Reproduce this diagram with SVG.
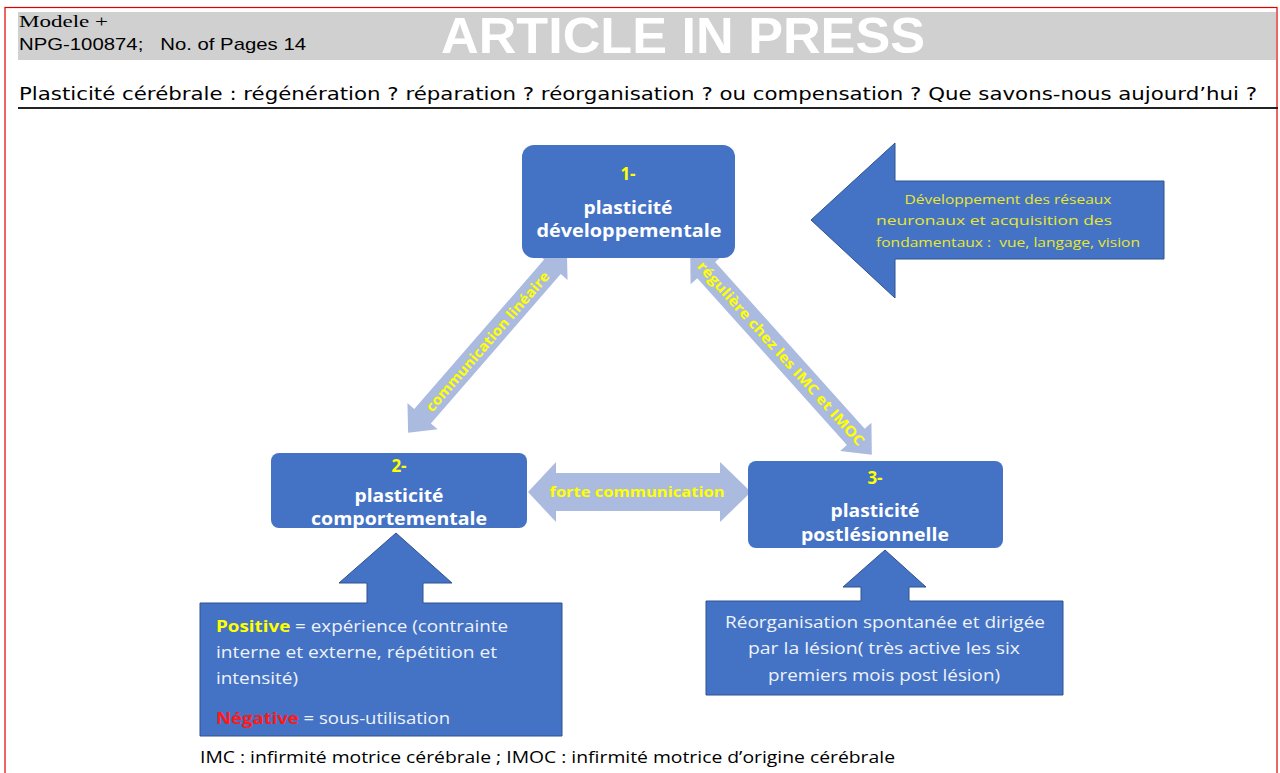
<svg xmlns="http://www.w3.org/2000/svg" width="1280" height="773" viewBox="0 0 1280 773">
<style>
.node{fill:#4472C4;}
.box{fill:#4472C4;stroke:#2F528F;stroke-width:1;}
.conn{fill:#ABBADF;}
.t{font-family:"Liberation Sans","Open Sans",sans-serif;}
.num{font-family:"Open Sans","Liberation Sans",sans-serif;font-weight:bold;font-size:17px;fill:#FFFF00;text-anchor:middle;}
.lbl{font-family:"Open Sans","Liberation Sans",sans-serif;font-weight:bold;font-size:18px;fill:#FFFFFF;text-anchor:middle;}
.clbl{font-family:"Open Sans","Liberation Sans",sans-serif;font-weight:bold;font-size:14px;fill:#FFFF00;text-anchor:middle;}
.body{font-family:"Open Sans","Liberation Sans",sans-serif;font-size:16px;fill:#EEF2FA;}
.dev{font-family:"Open Sans","Liberation Sans",sans-serif;font-size:13px;fill:#E8E830;text-anchor:middle;}
</style>
<rect x="0" y="0" width="1280" height="773" fill="#FFFFFF"/>
<rect x="5" y="7.5" width="1272" height="780" fill="none" stroke="#E00000" stroke-width="1.2"/>
<rect x="18" y="12" width="1258" height="48" fill="#D0D0D0"/>
<text x="19" y="27" font-family="Liberation Serif,serif" font-size="17" fill="#000" textLength="89" lengthAdjust="spacingAndGlyphs">Modele +</text>
<text x="19" y="50" class="t" font-size="17" fill="#000" xml:space="preserve" textLength="287" lengthAdjust="spacingAndGlyphs">NPG-100874;   No. of Pages 14</text>
<text x="683" y="53" font-family="Liberation Sans,sans-serif" font-weight="bold" font-size="50" fill="#FFFFFF" text-anchor="middle" textLength="484" lengthAdjust="spacingAndGlyphs">ARTICLE IN PRESS</text>
<text x="19" y="100" font-family="DejaVu Sans,sans-serif" font-size="18" fill="#000" textLength="1238" lengthAdjust="spacingAndGlyphs">Plasticité cérébrale : régénération ? réparation ? réorganisation ? ou compensation ? Que savons-nous aujourd’hui ?</text>
<rect x="18" y="107" width="1260" height="2" fill="#222"/>

<g id="connectors">
<path class="conn" transform="translate(487.5,341.5) rotate(-49)" d="M-121,0 L-99,-20 L-99,-11 L99,-11 L99,-20 L121,0 L99,20 L99,11 L-99,11 L-99,20 Z"/>
<text class="clbl" transform="translate(487.5,341.5) rotate(-49)" y="5" textLength="180" lengthAdjust="spacingAndGlyphs">communication linéaire</text>
<path class="conn" transform="translate(781,353.5) rotate(48.1)" d="M-136,0 L-112,-21 L-112,-12 L112,-12 L112,-21 L136,0 L112,21 L112,12 L-112,12 L-112,21 Z"/>
<text class="clbl" transform="translate(781,353.5) rotate(48.1)" y="5" font-size="15" textLength="242" lengthAdjust="spacingAndGlyphs">régulière chez les IMC et IMOC</text>
<path class="conn" d="M528,492 L556,462 L556,473 L720,473 L720,462 L751,492 L720,522 L720,511 L556,511 L556,522 Z"/>
<text class="clbl" x="637" y="497" font-size="15" textLength="175" lengthAdjust="spacingAndGlyphs">forte communication</text>
</g>

<g id="node1">
<rect class="node" x="522" y="145" width="213" height="113" rx="12"/>
<text class="num" x="628" y="180">1-</text>
<text class="lbl" x="628" y="214" textLength="89" lengthAdjust="spacingAndGlyphs">plasticité</text>
<text class="lbl" x="629" y="237" textLength="185" lengthAdjust="spacingAndGlyphs">développementale</text>
</g>

<g id="node2">
<rect class="node" x="271" y="453" width="256" height="75" rx="8"/>
<text class="num" x="399" y="472">2-</text>
<text class="lbl" x="399" y="502" textLength="89" lengthAdjust="spacingAndGlyphs">plasticité</text>
<text class="lbl" x="399" y="525" textLength="176" lengthAdjust="spacingAndGlyphs">comportementale</text>
</g>

<g id="node3">
<rect class="node" x="748" y="461" width="255" height="87" rx="8"/>
<text class="num" x="875" y="484">3-</text>
<text class="lbl" x="875" y="517" textLength="89" lengthAdjust="spacingAndGlyphs">plasticité</text>
<text class="lbl" x="875" y="541" textLength="148" lengthAdjust="spacingAndGlyphs">postlésionnelle</text>
</g>

<g id="arrow-dev">
<path class="box" d="M811,220 L895,143 L895,181 L1164,181 L1164,259 L895,259 L895,298 Z"/>
<text class="dev" x="1008" y="204" textLength="207" lengthAdjust="spacingAndGlyphs">Développement des réseaux</text>
<text class="dev" x="994" y="225" textLength="236" lengthAdjust="spacingAndGlyphs">neuronaux et acquisition des</text>
<text class="dev" x="1008" y="247" xml:space="preserve" textLength="264" lengthAdjust="spacingAndGlyphs">fondamentaux :  vue, langage, vision</text>
</g>

<g id="arrow-comport">
<path class="box" d="M396,533 L452,583 L423,583 L423,603 L562,603 L562,736 L200,736 L200,603 L367,603 L367,583 L339,583 Z"/>
<text class="body" x="216" y="632" textLength="292" lengthAdjust="spacingAndGlyphs"><tspan font-weight="bold" fill="#FFFF00">Positive</tspan> = expérience (contrainte</text>
<text class="body" x="216" y="658" textLength="281" lengthAdjust="spacingAndGlyphs">interne et externe, répétition et</text>
<text class="body" x="216" y="684" textLength="82" lengthAdjust="spacingAndGlyphs">intensité)</text>
<text class="body" x="216" y="724" textLength="234" lengthAdjust="spacingAndGlyphs"><tspan font-weight="bold" fill="#FF1A1A">Négative</tspan> = sous-utilisation</text>
</g>

<g id="arrow-postles">
<path class="box" d="M885,550 L926,587 L909,587 L909,601 L1063,601 L1063,695 L706,695 L706,601 L861,601 L861,587 L843,587 Z"/>
<text class="body" x="885" y="628" text-anchor="middle" textLength="320" lengthAdjust="spacingAndGlyphs">Réorganisation spontanée et dirigée</text>
<text class="body" x="884" y="654" text-anchor="middle" textLength="272" lengthAdjust="spacingAndGlyphs">par la lésion( très active les six</text>
<text class="body" x="884" y="681" text-anchor="middle" textLength="232" lengthAdjust="spacingAndGlyphs">premiers mois post lésion)</text>
</g>

<text x="200" y="763" font-family="Open Sans,Liberation Sans,sans-serif" font-size="16" fill="#000" textLength="695" lengthAdjust="spacingAndGlyphs">IMC : infirmité motrice cérébrale ; IMOC : infirmité motrice d’origine cérébrale</text>
</svg>
